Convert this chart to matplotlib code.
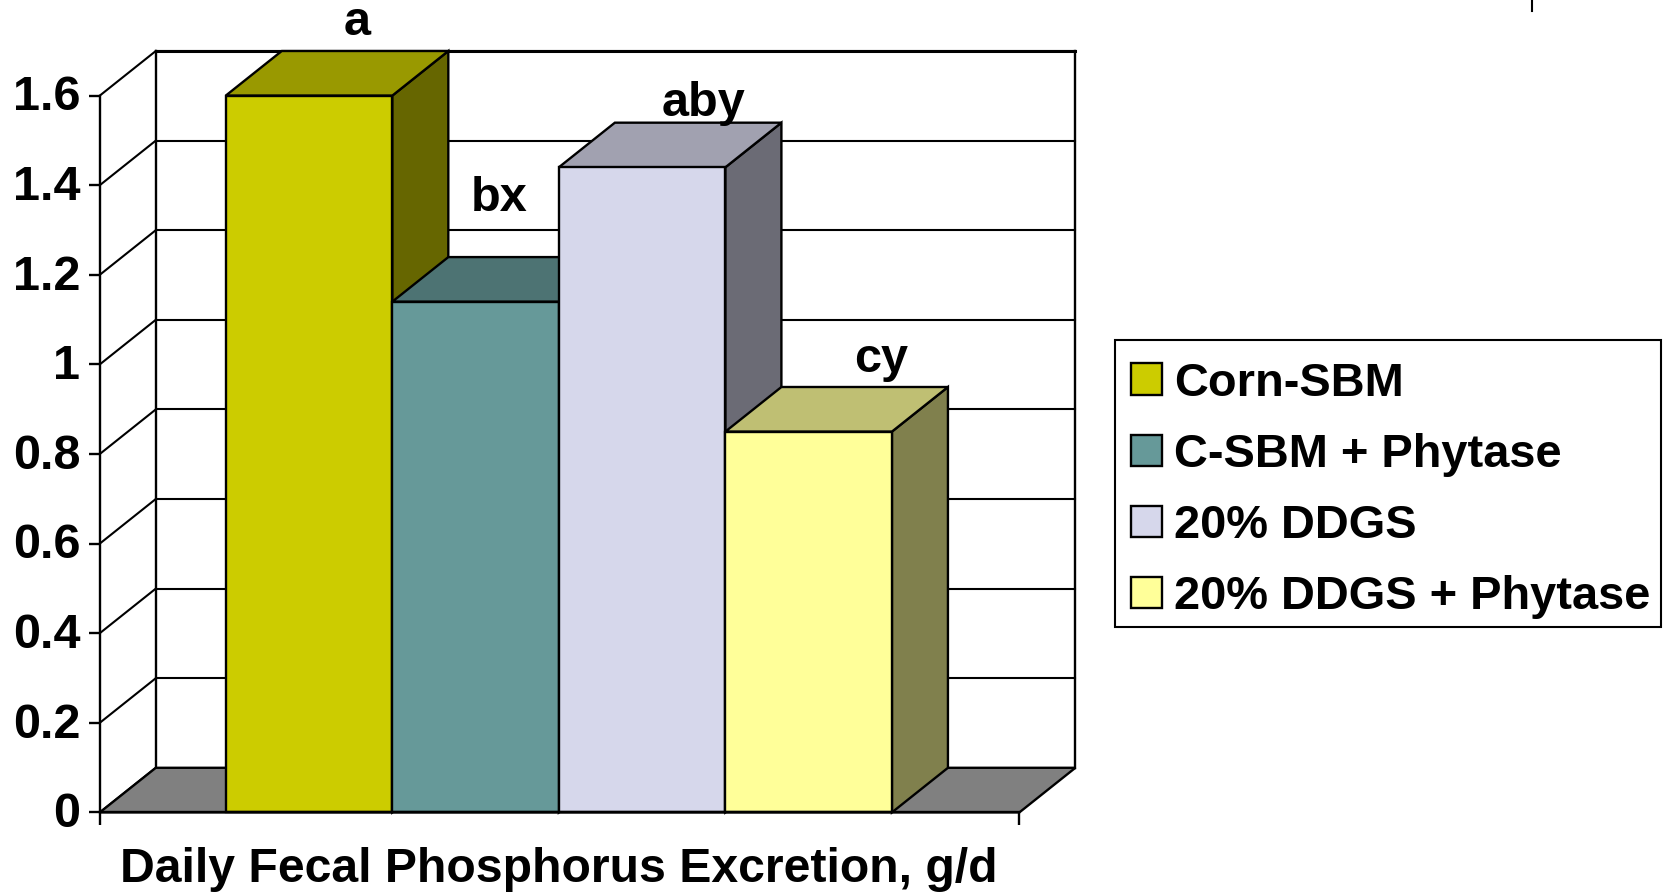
import matplotlib
matplotlib.use('Agg')
import matplotlib.pyplot as plt
from matplotlib.patches import Patch, Rectangle
from matplotlib.lines import Line2D
from matplotlib.transforms import ScaledTranslation

plt.rcParams['font.family'] = ['Liberation Sans', 'DejaVu Sans']
plt.rcParams['font.weight'] = 'bold'

# data
treatments = ['Corn-SBM', 'C-SBM + Phytase', '20% DDGS', '20% DDGS + Phytase']
fecal_p = [1.6, 1.14, 1.44, 0.85]
letters = ['a', 'bx', 'aby', 'cy']
y_ticks = [0, 0.2, 0.4, 0.6, 0.8, 1.0, 1.2, 1.4, 1.6]
y_tick_labels = ['0', '0.2', '0.4', '0.6', '0.8', '1', '1.2', '1.4', '1.6']
x_label = 'Daily Fecal Phosphorus Excretion, g/d'

front_colors = ['#CCCC00', '#669999', '#D6D7EB', '#FFFF99']
top_colors = ['#999900', '#4D7373', '#A1A1B0', '#BFBF73']
side_colors = ['#666600', '#4D7373', '#6B6B75', '#80804D']

# layout, pixels
W, H = 1665, 893
left, right = 99.8, 1019.4
base, top = 812.4, 95.6
letter_pos = [(357, 35), (499, 211), (704, 116), (881, 372)]

fig = plt.figure(figsize=(W/100, H/100), dpi=100, facecolor='white')
ax = fig.add_axes([left/W, 1 - base/H, (right-left)/W, (base-top)/H])
ax.set_xlim(0, 1)
ax.set_ylim(0, 1.6)
ax.patch.set_visible(False)

# depth of the fake 3d box, in data units
dx = 56.0/(right-left)
dy = 44.6/((base-top)/1.6)
bar_w = 0.1811
bar_start = 0.137
lw = 1.7

# walls and gridlines
for t in y_ticks:
    ax.plot([0, dx], [t, t+dy], color='black', lw=1.5, clip_on=False, zorder=1)
    ax.plot([dx, 1+dx], [t+dy, t+dy], color='black', lw=1.5, clip_on=False, zorder=1)
ax.plot([dx, 1+dx], [1.6+dy, 1.6+dy], color='black', lw=2.2, clip_on=False, zorder=1)
ax.plot([dx, dx], [dy, 1.6+dy], color='black', lw=lw, clip_on=False, zorder=1)
ax.plot([1+dx, 1+dx], [dy, 1.6+dy], color='black', lw=lw, clip_on=False, zorder=1)

# floor
ax.fill([0, 1, 1+dx, dx], [0, 0, dy, dy], facecolor='#808080', edgecolor='black',
        lw=lw, clip_on=False, zorder=2)

# bars, left to right so each one hides the side of the previous
z = 3
for i, v in enumerate(fecal_p):
    x0 = bar_start + i*bar_w
    x1 = x0 + bar_w
    ax.fill([x1, x1+dx, x1+dx, x1], [0, dy, v+dy, v], facecolor=side_colors[i],
            edgecolor='black', lw=lw, clip_on=False, zorder=z)
    ax.fill([x0, x1, x1+dx, x0+dx], [v, v, v+dy, v+dy], facecolor=top_colors[i],
            edgecolor='black', lw=lw, clip_on=False, zorder=z)
    ax.fill([x0, x1, x1, x0], [0, 0, v, v], facecolor=front_colors[i],
            edgecolor='black', lw=lw, clip_on=False, zorder=z)
    z += 1

# axes
for s in ['top', 'right']:
    ax.spines[s].set_visible(False)
for s in ['left', 'bottom']:
    ax.spines[s].set_linewidth(lw)
    ax.spines[s].set_zorder(10)
ax.set_yticks(y_ticks)
ax.set_yticklabels(y_tick_labels, fontsize=35, fontweight='bold')
ax.set_xticks([0, 1])
ax.set_xticklabels(['', ''])
ax.tick_params(axis='y', length=8, width=lw, pad=6)
ax.tick_params(axis='x', length=9, width=lw)

# tick labels sit a little above their ticks in the original
up = ScaledTranslation(0, 2/72, fig.dpi_scale_trans)
for lab in ax.get_yticklabels():
    lab.set_transform(lab.get_transform() + up)

fig.text(559/W, 1 - 869/H, x_label, fontsize=34.7, fontweight='bold', ha='center', va='center')

for lab, (px, py) in zip(letters, letter_pos):
    fig.text(px/W, 1 - py/H, lab, fontsize=35, fontweight='bold', ha='center', va='baseline')

# legend: frame drawn apart so its size can be set exactly
fig.add_artist(Rectangle((1115/W, 1 - 626.5/H), 546/W, 286.5/H, transform=fig.transFigure,
                         facecolor='white', edgecolor='black', lw=1.5))
handles = [Patch(facecolor=c, edgecolor='black', lw=lw) for c in front_colors]
leg = fig.legend(handles, treatments, loc='upper left',
                 bbox_to_anchor=(1131/W, 1 - 361.6/H), borderaxespad=0,
                 prop={'family': 'Liberation Sans', 'weight': 'bold', 'size': 33.8},
                 frameon=False, handlelength=0.65, handleheight=0.65, handletextpad=0.26,
                 labelspacing=0.58, borderpad=0)

# stray tick at the top of the slide
fig.add_artist(Line2D([1532/W, 1532/W], [1, 1 - 11/H], color='black', lw=1.5))

fig.savefig('out.png', dpi=100)
